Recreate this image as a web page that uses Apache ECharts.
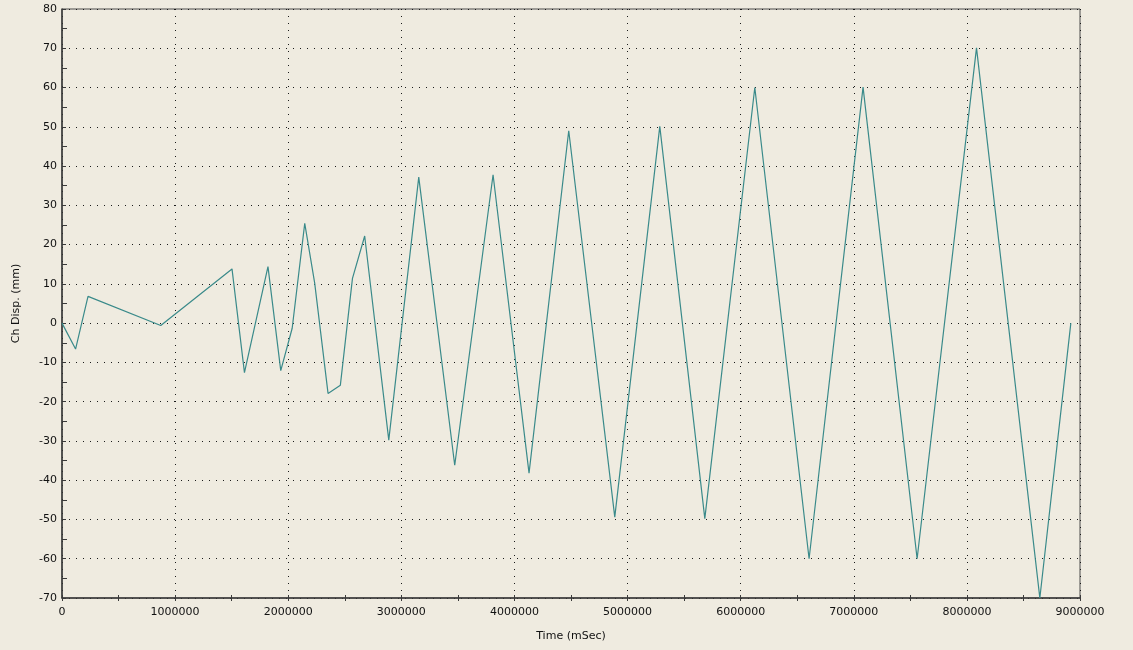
<!DOCTYPE html>
<html>
<head>
<meta charset="utf-8">
<script src="https://cdn.jsdelivr.net/npm/echarts@6/dist/echarts.min.js"></script>
<style>
  html, body { margin: 0; padding: 0; background: #efebe0; }
  #chart { width: 1133px; height: 650px; }
</style>
</head>
<body>
<div id="chart"></div>
<script>
// Displacement history: time (ms) and channel displacement (mm)
const timeMs = [
  0, 120000, 230000, 873000, 1503000, 1613000, 1821000, 1934000, 2035000,
  2146000, 2234000, 2352000, 2461000, 2568000, 2676000, 2889000, 3154000,
  3472000, 3811000, 4129000, 4480000, 4887000, 5285000, 5683000, 6125000,
  6605000, 7082000, 7560000, 8085000, 8645000, 8919000
];
const dispMm = [
  0, -6.6, 6.8, -0.6, 13.8, -12.6, 14.4, -12.1, -1.3,
  25.4, 10.2, -17.9, -15.8, 11.4, 22.2, -29.8, 37.2,
  -36.2, 37.8, -38.2, 49.0, -49.4, 50.1, -49.8, 60.0,
  -60.0, 60.1, -60.0, 70.1, -70.0, 0
];
const xTicks = { min: 0, max: 9000000, step: 1000000 };
const yTicks = { min: -70, max: 80, step: 10 };

const points = timeMs.map((t, i) => [t, dispMm[i]]);

const font = 'DejaVu Sans, Liberation Sans, sans-serif';
const axisColor = '#3a3a3a';
const dotted = { color: '#1a1a1a', width: 1, type: [1, 6] };
const plain = v => String(v);

const chart = echarts.init(document.getElementById('chart'));
chart.setOption({
  backgroundColor: '#efebe0',
  animation: false,
  grid: {
    left: 62, right: 53, top: 9, bottom: 52,
    show: true, borderColor: '#4a4a4a', borderWidth: 1
  },
  xAxis: [{
    type: 'value',
    min: xTicks.min, max: xTicks.max, interval: xTicks.step,
    name: 'Time (mSec)', nameLocation: 'middle', nameGap: 33,
    nameTextStyle: { fontFamily: font, fontSize: 11, color: '#111' },
    axisLine: { onZero: false, lineStyle: { color: axisColor, width: 1.5 } },
    axisTick: { show: true, inside: false, length: 3, lineStyle: { color: axisColor } },
    minorTick: { show: true, splitNumber: 2, length: 3, lineStyle: { color: axisColor } },
    axisLabel: { fontFamily: font, fontSize: 11, color: '#111', margin: 9, formatter: plain },
    splitLine: { show: true, lineStyle: dotted }
  }, {
    // second copy of the time axis, carrying the inward half of the ticks
    type: 'value', position: 'bottom',
    min: xTicks.min, max: xTicks.max, interval: xTicks.step,
    axisLine: { show: false, onZero: false },
    axisTick: { show: true, inside: true, length: 3, lineStyle: { color: axisColor } },
    minorTick: { show: true, splitNumber: 2, length: 3, lineStyle: { color: axisColor } },
    axisLabel: { show: false },
    splitLine: { show: false }
  }],
  yAxis: {
    type: 'value',
    min: yTicks.min, max: yTicks.max, interval: yTicks.step,
    name: 'Ch Disp. (mm)', nameLocation: 'middle', nameGap: 40, nameRotate: 90,
    nameTextStyle: { fontFamily: font, fontSize: 11, color: '#111' },
    axisLine: { show: true, onZero: false, lineStyle: { color: axisColor, width: 1.5 } },
    axisTick: { show: true, inside: true, length: 4, lineStyle: { color: axisColor } },
    minorTick: { show: true, splitNumber: 2, length: 5, lineStyle: { color: axisColor } },
    axisLabel: { fontFamily: font, fontSize: 11, color: '#111', margin: 5, formatter: plain },
    splitLine: { show: true, lineStyle: dotted }
  },
  series: [{
    type: 'line',
    xAxisIndex: 0,
    data: points,
    showSymbol: false,
    lineStyle: { color: '#3a8a8a', width: 1.2 },
    itemStyle: { color: '#3a8a8a' }
  }]
});
</script>
</body>
</html>
